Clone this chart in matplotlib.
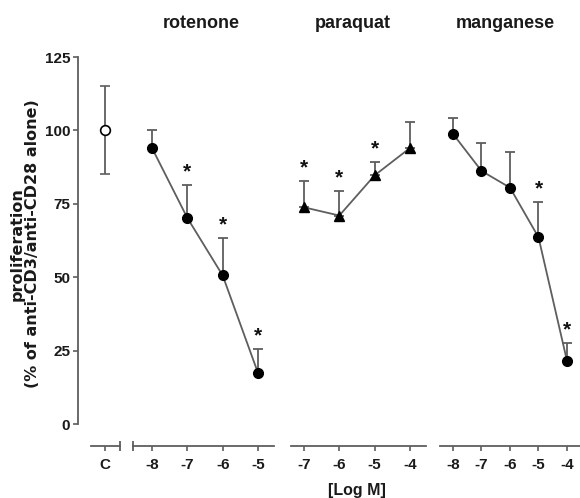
import matplotlib
matplotlib.use("Agg")
import matplotlib.pyplot as plt
from matplotlib.transforms import blended_transform_factory

# ---- data ----
ctrl_label = ["C"]
ctrl_mean = [100]
ctrl_err = [15]

rot_x = [-8, -7, -6, -5]
rot_mean = [94, 70.2, 50.6, 17.4]
rot_err = [6, 11.2, 12.8, 8.1]
rot_star = [False, True, True, True]

par_x = [-7, -6, -5, -4]
par_mean = [73.8, 71.0, 84.7, 94.0]
par_err = [8.8, 8.4, 4.5, 8.7]
par_star = [True, True, True, False]

man_x = [-8, -7, -6, -5, -4]
man_mean = [98.8, 86.2, 80.5, 63.6, 21.5]
man_err = [5.3, 9.5, 12.3, 12.0, 6.0]
man_star = [False, False, False, True, True]

titles = ["rotenone", "paraquat", "manganese"]
yticks = [0, 25, 50, 75, 100, 125]

# ---- style ----
W, H = 580, 498
GRAY = "#5e5e5e"
NARROW = ["Liberation Sans Narrow", "Liberation Sans", "DejaVu Sans"]
ARIAL = ["Liberation Sans", "DejaVu Sans"]

fig = plt.figure(figsize=(W / 100, H / 100), dpi=100)

top_px, bot_px = 57, 424
spine_off_px = 21.7


def make_ax(x0, x1, xlim, bounds):
    ax = fig.add_axes([x0 / W, (H - bot_px) / H, (x1 - x0) / W, (bot_px - top_px) / H])
    ax.patch.set_alpha(0)
    ax.set_xlim(*xlim)
    ax.set_ylim(0, 125)
    for s in ["top", "right", "left"]:
        ax.spines[s].set_visible(False)
    ax.spines["bottom"].set_position(("outward", spine_off_px * 72 / 100))
    ax.spines["bottom"].set_bounds(*bounds)
    ax.spines["bottom"].set_color(GRAY)
    ax.spines["bottom"].set_linewidth(1.3)
    ax.tick_params(axis="x", direction="out", length=3.5, width=1.2, color=GRAY, pad=5)
    ax.set_yticks([])
    return ax


def tick_fmt(ax):
    for lab in ax.get_xticklabels():
        lab.set_fontfamily(NARROW)
        lab.set_fontweight("bold")
        lab.set_fontsize(11)
        lab.set_color("#1a1a1a")


def add_cap(ax, x):
    tr = blended_transform_factory(ax.transData, ax.transAxes)
    yax = -spine_off_px / (bot_px - top_px)
    ax.plot([x], [yax], marker="|", markersize=6.5, mew=1.3, color=GRAY,
            transform=tr, clip_on=False)


def series(ax, xs, means, errs, stars, marker):
    ax.plot(xs, means, color=GRAY, lw=1.3, zorder=2)
    ax.errorbar(xs, means, yerr=[[0] * len(errs), errs], fmt="none",
                ecolor=GRAY, elinewidth=1.3, capsize=3.5, capthick=1.3, zorder=2)
    ax.plot(xs, means, linestyle="none", marker=marker, markersize=7,
            color="black", zorder=3, clip_on=False)
    for x, m, e, s in zip(xs, means, errs, stars):
        if s:
            ax.annotate("*", (x, m + e), xytext=(0, 9.5), textcoords="offset points",
                        ha="center", va="center", fontsize=15, fontweight="bold",
                        family=ARIAL, color="#111111")


# control axis (with y axis)
sc = 35.33
axc = make_ax(78, 125, (-(105 - 78) / sc, (125 - 105) / sc),
              ((91 - 105) / sc, (120 - 105) / sc))
axc.spines["left"].set_visible(True)
axc.spines["left"].set_color(GRAY)
axc.spines["left"].set_linewidth(1.3)
axc.spines["left"].set_bounds(0, 125)
axc.set_yticks(yticks)
axc.tick_params(axis="y", direction="out", length=3.5, width=1.2, color=GRAY, pad=2)
for lab in axc.get_yticklabels():
    lab.set_fontfamily(NARROW)
    lab.set_fontweight("bold")
    lab.set_fontsize(11)
    lab.set_color("#1a1a1a")
axc.set_xticks([0])
axc.set_xticklabels(ctrl_label)
tick_fmt(axc)
axc.errorbar([0], ctrl_mean, yerr=[ctrl_err], fmt="o", color=GRAY, mfc="white",
             mec="black", ms=7, mew=1.2, elinewidth=1.3, capsize=3.5, capthick=1.3)
add_cap(axc, (120 - 105) / sc)

# rotenone
axr = make_ax(128, 280, (-8 - 24 / sc, -8 + 128 / sc), (-8 - 19 / sc, -8 + 122 / sc))
axr.set_xticks(rot_x)
axr.set_xticklabels([str(v) for v in rot_x])
tick_fmt(axr)
series(axr, rot_x, rot_mean, rot_err, rot_star, "o")
add_cap(axr, -8 - 19 / sc)

# paraquat
axp = make_ax(286, 432, (-7 - 18 / sc, -7 + 128 / sc), (-7 - 13 / sc, -7 + 122 / sc))
axp.set_xticks(par_x)
axp.set_xticklabels([str(v) for v in par_x])
tick_fmt(axp)
series(axp, par_x, par_mean, par_err, par_star, "^")

# manganese
sm = 28.5
axm = make_ax(436, 580, (-8 - 17 / sm, -8 + 127 / sm), (-8 - 13 / sm, -8 + 127 / sm))
axm.set_xticks(man_x)
axm.set_xticklabels([str(v) for v in man_x])
tick_fmt(axm)
series(axm, man_x, man_mean, man_err, man_star, "o")

# titles
for t, xc in zip(titles, [201, 353, 505]):
    fig.text(xc / W, 1 - 24 / H, t, ha="center", va="center", fontsize=13,
             fontweight="bold", family=NARROW, color="#1a1a1a")

# x label
fig.text(357 / W, 1 - 490 / H, "[Log M]", ha="center", va="center", fontsize=11.5,
         fontweight="bold", family=NARROW, color="#1a1a1a")

# y label
fig.text(25 / W, 1 - 244 / H, "proliferation\n(% of anti-CD3/anti-CD28 alone)",
         rotation=90, ha="center", va="center", fontsize=11.5, fontweight="bold",
         family=["DejaVu Sans"], color="#1a1a1a", linespacing=1.0,
         multialignment="center")

fig.savefig("out.png", dpi=100)
